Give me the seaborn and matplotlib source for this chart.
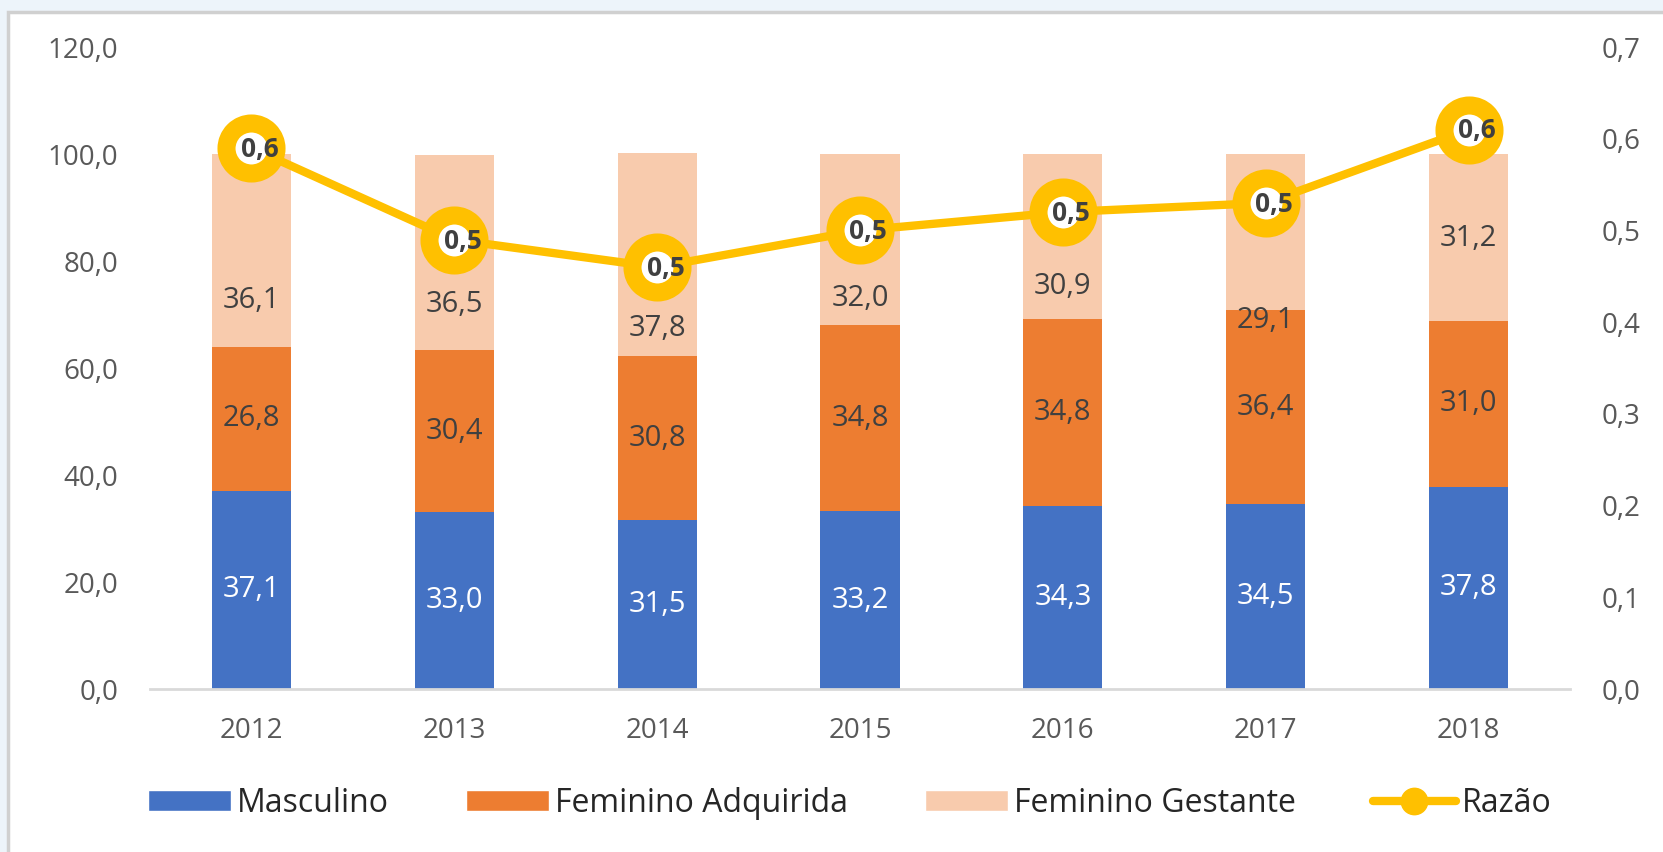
import numpy as np
import pandas as pd
import seaborn as sns
import matplotlib
matplotlib.use('Agg')
import matplotlib.pyplot as plt
from matplotlib.patches import Patch, Rectangle
from matplotlib.lines import Line2D
from matplotlib.ticker import FuncFormatter

sns.set_theme(style='white')
plt.rcParams['font.family'] = ['Open Sans', 'DejaVu Sans']

YEARS = ['2012', '2013', '2014', '2015', '2016', '2017', '2018']
MASCULINO = [37.1, 33.0, 31.5, 33.2, 34.3, 34.5, 37.8]
FEM_ADQUIRIDA = [26.8, 30.4, 30.8, 34.8, 34.8, 36.4, 31.0]
FEM_GESTANTE = [36.1, 36.5, 37.8, 32.0, 30.9, 29.1, 31.2]
RAZAO = [0.59, 0.49, 0.46, 0.50, 0.52, 0.53, 0.61]

# where the gestante labels sit (they were moved by hand in the original)
GEST_LABEL_Y = [72.7, 71.9, 67.3, 73.0, 75.2, 68.9, 84.2]

BLUE = '#4472C4'
ORANGE = '#ED7D31'
PEACH = '#F8CBAD'
YELLOW = '#FFC000'
TICK_GRAY = '#595959'
LABEL_GRAY = '#404040'


def fmt_comma(v, pos=None):
    return '{:.1f}'.format(v).replace('.', ',')


df = pd.DataFrame({'ano': YEARS,
                   'masc': MASCULINO,
                   'adq': FEM_ADQUIRIDA,
                   'gest': FEM_GESTANTE,
                   'razao': RAZAO})
df['lvl1'] = df['masc']
df['lvl2'] = df['masc'] + df['adq']
df['lvl3'] = df['masc'] + df['adq'] + df['gest']

fig = plt.figure(figsize=(16.63, 8.52), dpi=100)
fig.patch.set_facecolor('#EDF4FA')
fig.patches.append(Rectangle((8 / 1663, -0.1), 1.2, 1 - 12 / 852 + 0.1,
                             transform=fig.transFigure, facecolor='white',
                             edgecolor='#D0D0D0', linewidth=2.5, zorder=-1))

ax = fig.add_axes([0.0902, 0.1913, 0.8539, 0.7535])
ax.patch.set_alpha(0)

# stacked bars: draw cumulative totals back to front
for col, colr in [('lvl3', PEACH), ('lvl2', ORANGE), ('lvl1', BLUE)]:
    sns.barplot(data=df, x='ano', y=col, color=colr, saturation=1,
                width=0.39, linewidth=0, ax=ax)

ax.set_ylim(0, 120)
ax.set_xlim(-0.5, 6.5)
ax.set_yticks(range(0, 121, 20))
ax.yaxis.set_major_formatter(FuncFormatter(fmt_comma))
ax.set_xlabel('')
ax.set_ylabel('')
for s in ['top', 'right', 'left']:
    ax.spines[s].set_visible(False)
ax.spines['bottom'].set_color('#D9D9D9')
ax.spines['bottom'].set_linewidth(2)
ax.tick_params(axis='both', length=0, colors=TICK_GRAY)
ax.tick_params(axis='y', pad=23, labelsize=20)
ax.tick_params(axis='x', pad=20, labelsize=20)

for i, row in df.iterrows():
    ax.text(i, row['masc'] / 2, fmt_comma(row['masc']), ha='center', va='center',
            color='white', fontsize=21)
    ax.text(i, row['masc'] + row['adq'] / 2, fmt_comma(row['adq']), ha='center',
            va='center', color=LABEL_GRAY, fontsize=21)
    ax.text(i, GEST_LABEL_Y[i], fmt_comma(row['gest']), ha='center', va='center',
            color=LABEL_GRAY, fontsize=21)

ax2 = ax.twinx()
ax2.set_position(ax.get_position())
sns.lineplot(x=np.arange(len(YEARS)), y=df['razao'], ax=ax2, color=YELLOW,
             linewidth=6, marker='o', markersize=36, markerfacecolor='white',
             markeredgecolor=YELLOW, markeredgewidth=13, zorder=5)
ax2.set_ylim(0, 0.7)
ax2.set_yticks(np.arange(0, 0.71, 0.1))
ax2.yaxis.set_major_formatter(FuncFormatter(fmt_comma))
ax2.set_ylabel('')
for s in ax2.spines.values():
    s.set_visible(False)
ax2.tick_params(axis='y', length=0, colors=TICK_GRAY, labelsize=20, pad=23)

for i, r in enumerate(RAZAO):
    ax2.annotate('{:.1f}'.format(r).replace('.', ','), (i, r),
                 xytext=(6, -1), textcoords='offset points', ha='center',
                 va='center', fontsize=19, fontweight='bold', color=LABEL_GRAY,
                 zorder=6)

handles = [Patch(facecolor=BLUE, label='Masculino'),
           Patch(facecolor=ORANGE, label='Feminino Adquirida'),
           Patch(facecolor=PEACH, label='Feminino Gestante'),
           Line2D([0], [0], color=YELLOW, linewidth=6, marker='o', markersize=19,
                  markerfacecolor=YELLOW, markeredgecolor=YELLOW, label='Razão')]
leg = fig.legend(handles=handles, loc='center', bbox_to_anchor=(0.511, 0.0575),
                 ncol=4, frameon=False, fontsize=23, handlelength=2.6,
                 handleheight=0.65, handletextpad=0.2, columnspacing=2.4)
for t in leg.get_texts():
    t.set_color('#262626')

fig.savefig('out.png', dpi=100, facecolor=fig.get_facecolor())
